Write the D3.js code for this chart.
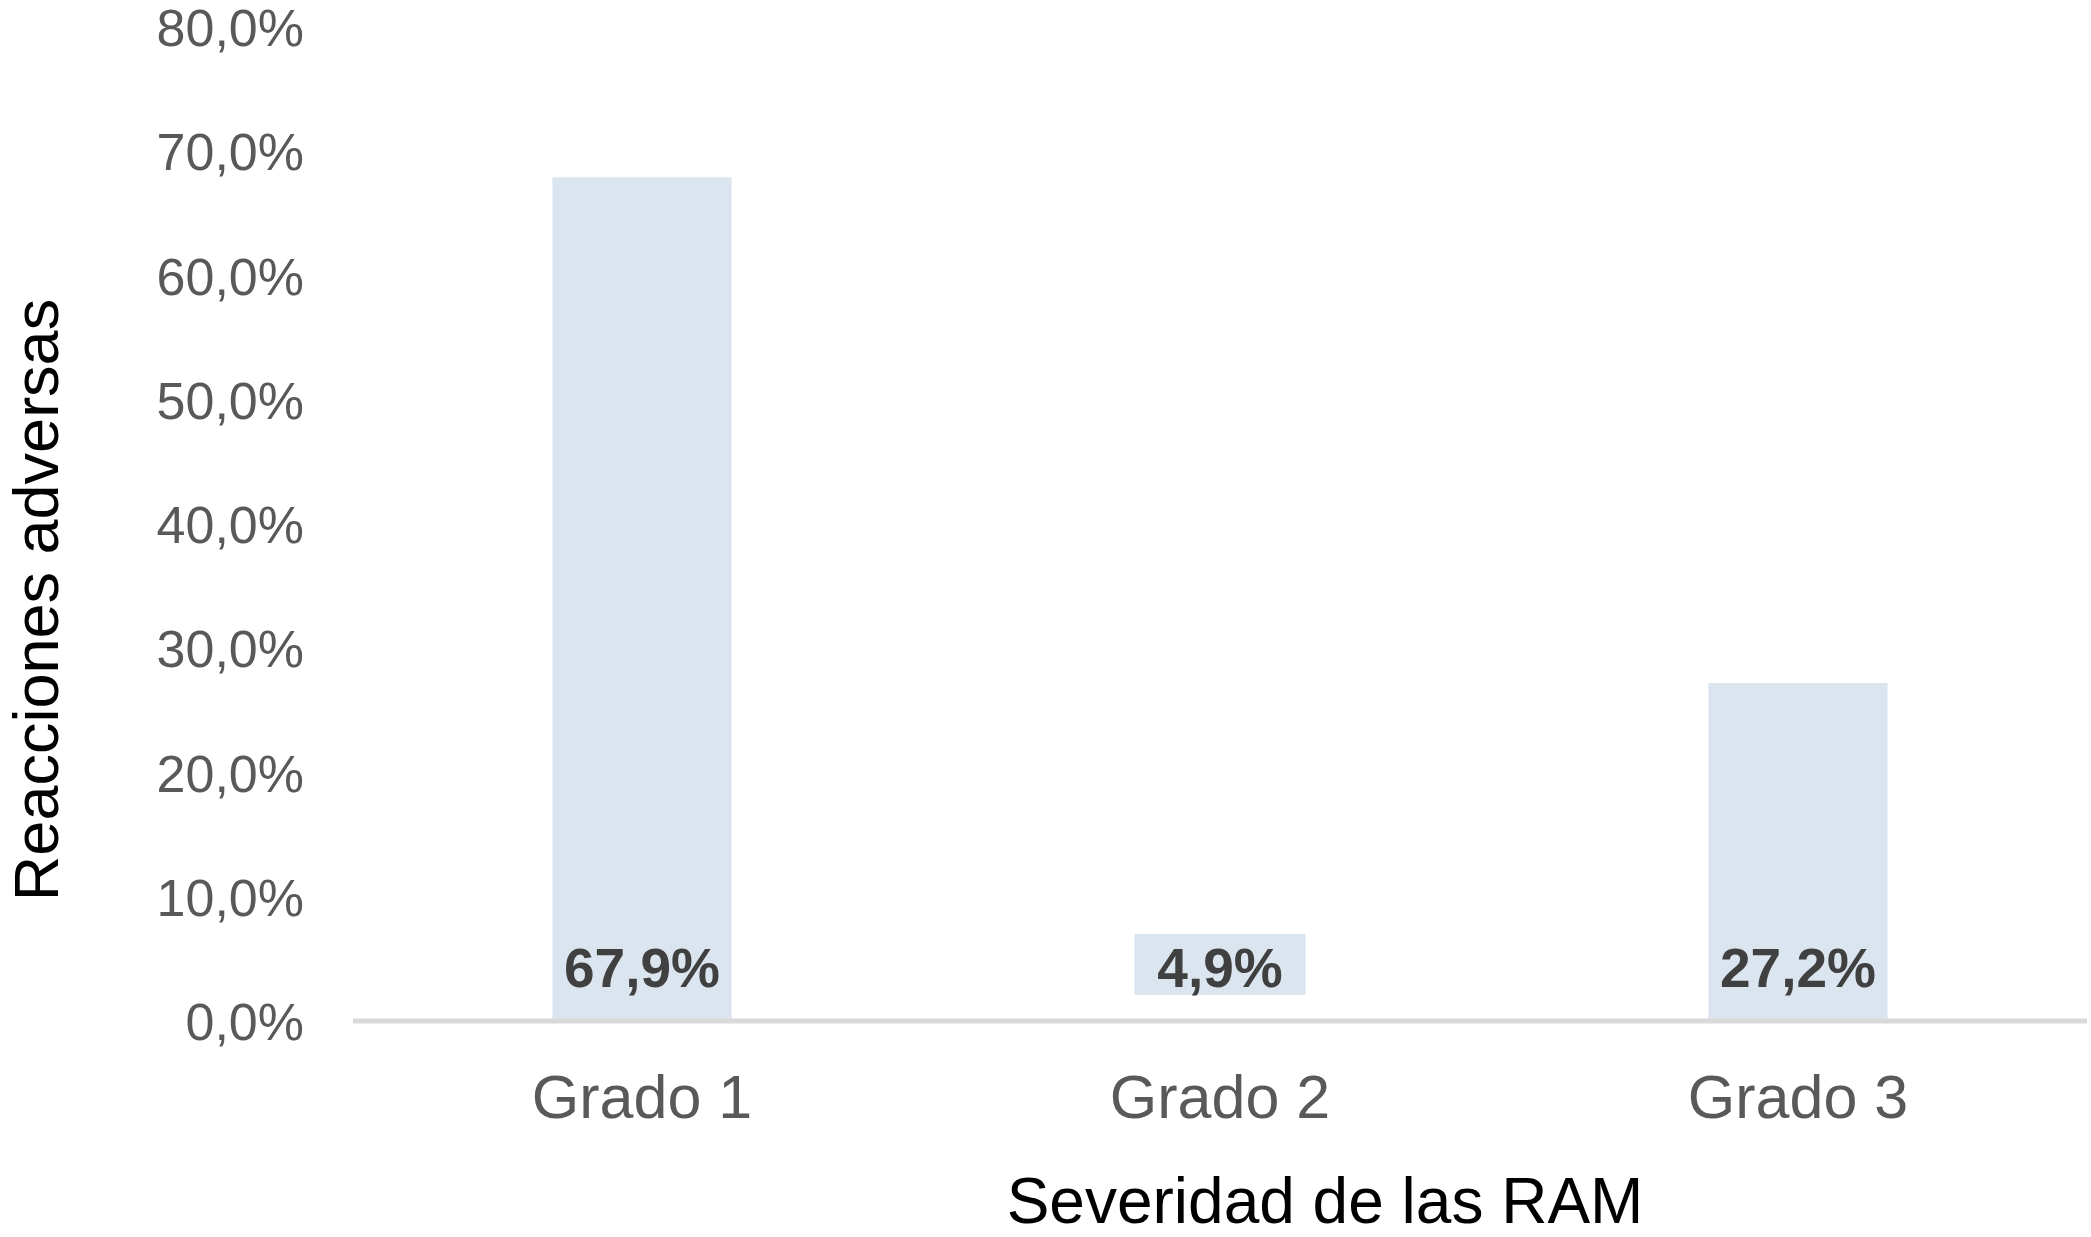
<!DOCTYPE html>
<html>
<head>
<meta charset="utf-8">
<script src="https://cdn.jsdelivr.net/npm/d3@7"></script>
<style>
  body { margin: 0; background: #fff; }
  text { font-family: "Liberation Sans", Arial, sans-serif; }
</style>
</head>
<body>
<svg width="2091" height="1237"></svg>
<script>
var categories = ["Grado 1", "Grado 2", "Grado 3"];
var values = [67.9, 4.9, 27.2];
var tickValues = [0, 10, 20, 30, 40, 50, 60, 70, 80];

var svg = d3.select("svg");

var locale = d3.formatLocale({ decimal: ",", thousands: ".", grouping: [3], currency: ["", "€"] });
var fmt = locale.format(".1f");

var x = d3.scaleBand()
          .domain(categories)
          .range([353, 2087])
          .paddingInner(0.69)
          .paddingOuter(0.345);

var y = d3.scaleLinear()
          .domain([0, 80])
          .range([1021, 27]);

// la barra de Grado 2 aparece desplazada hacia arriba en el original
var lift = function(i) { return i === 1 ? 2.1 : 0; };

var data = categories.map(function(c, i) { return { cat: c, value: values[i], i: i }; });

// eje Y (solo etiquetas)
var yAxis = svg.append("g")
   .attr("transform", "translate(304,0)")
   .call(d3.axisLeft(y).tickValues(tickValues).tickSize(0).tickPadding(0)
          .tickFormat(function(d) { return fmt(d) + "%"; }));
yAxis.select(".domain").remove();
yAxis.selectAll("text")
   .attr("dy", "0.36em")
   .style("font-family", "'Liberation Sans', Arial, sans-serif")
   .style("font-size", "52px")
   .attr("fill", "#595959");

// barras
svg.selectAll("rect.bar")
   .data(data)
   .enter()
   .append("rect")
   .attr("class", "bar")
   .attr("x", function(d) { return x(d.cat) + (d.i === 1 ? 4 : 0); })
   .attr("width", function(d) { return x.bandwidth() - (d.i === 1 ? 8 : 0); })
   .attr("y", function(d) { return y(d.value + lift(d.i)); })
   .attr("height", function(d) { return y(lift(d.i)) - y(d.value + lift(d.i)); })
   .attr("fill", "#dae5ef");

// línea base
svg.append("line")
   .attr("x1", x.range()[0])
   .attr("x2", x.range()[1])
   .attr("y1", y(0))
   .attr("y2", y(0))
   .attr("stroke", "#d9d9d9")
   .attr("stroke-width", 5);

// etiquetas de datos (posición: base interior)
svg.selectAll("text.label")
   .data(data)
   .enter()
   .append("text")
   .attr("class", "label")
   .attr("x", function(d) { return x(d.cat) + x.bandwidth() / 2; })
   .attr("y", y(0) - 34)
   .attr("text-anchor", "middle")
   .attr("font-size", "55px")
   .attr("font-weight", "bold")
   .attr("fill", "#404040")
   .text(function(d) { return fmt(d.value) + "%"; });

// eje X (categorías)
var xAxis = svg.append("g")
   .attr("transform", "translate(0," + 1096 + ")")
   .call(d3.axisBottom(x).tickSize(0).tickPadding(0));
xAxis.select(".domain").remove();
xAxis.selectAll("text")
   .attr("dy", "0.36em")
   .style("font-family", "'Liberation Sans', Arial, sans-serif")
   .style("font-size", "61px")
   .attr("fill", "#595959");

// títulos
svg.append("text")
   .attr("x", 1325)
   .attr("y", 1223)
   .attr("text-anchor", "middle")
   .attr("font-size", "64px")
   .attr("fill", "#000")
   .text("Severidad de las RAM");

svg.append("text")
   .attr("transform", "translate(58,600) rotate(-90)")
   .attr("text-anchor", "middle")
   .attr("font-size", "63px")
   .attr("fill", "#000")
   .text("Reacciones adversas");
</script>
</body>
</html>
